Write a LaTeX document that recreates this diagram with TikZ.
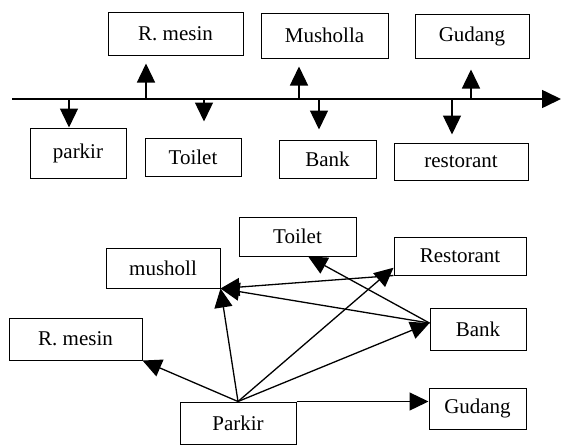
\documentclass[tikz,border=0pt]{standalone}
\usepackage{fontspec}
\setmainfont{Liberation Serif}
\usetikzlibrary{positioning, arrows.meta}
\tikzset{
room/.style={draw, rectangle, line width=1pt, inner sep=0pt, font=\fontsize{21}{24}\selectfont},
arr/.style={line width=1.4pt, -{Triangle[length=19pt, width=18pt]}},
}

\begin{document}
\begin{tikzpicture}[x=1pt, y=-1pt]
    \useasboundingbox (0,0) rectangle (562,445);

    %rooms above the line
    \node[room, minimum width=135, minimum height=43] (rmesinA) at (175.5,33.5) {R. mesin};
    \node[room, minimum width=127, minimum height=45] (mushollaA) at (324.5,35.5) {Musholla};
    \node[room, minimum width=114, minimum height=44] (gudangA) at (472,36) {Gudang};

    %rooms below the line
    \node[room, minimum width=96, minimum height=50] (parkirA) at (78,153) {parkir};
    \node[room, minimum width=96, minimum height=38] (toiletA) at (193,157) {Toilet};
    \node[room, minimum width=97, minimum height=38] (bankA) at (327.5,159) {Bank};
    \node[room, minimum width=134, minimum height=37] (restA) at (461,161.5) {restorant};

    %main line
    \coordinate (lstart) at (12,99);
    \coordinate (lend) at (561,99);
    \draw[arr, line width=1.6pt] (lstart)--(lend);

    %points on the line
    \coordinate (u1) at (146,99);
    \coordinate (u2) at (299,99);
    \coordinate (u3) at (471,99);
    \coordinate (d1) at (69,99);
    \coordinate (d2) at (204,99);
    \coordinate (d3) at (319,99);
    \coordinate (d4) at (452,99);

    %arrows up
    \draw[arr, shorten >=8pt]  (u1)--(u1 |- rmesinA.south);
    \draw[arr, shorten >=8pt]  (u2)--(u2 |- mushollaA.south);
    \draw[arr, shorten >=11pt] (u3)--(u3 |- gudangA.south);

    %arrows down
    \draw[arr]                 (d1)--(d1 |- parkirA.north);
    \draw[arr, shorten >=16pt] (d2)--(d2 |- toiletA.north);
    \draw[arr, shorten >=10pt] (d3)--(d3 |- bankA.north);
    \draw[arr, shorten >=8pt]  (d4)--(d4 |- restA.north);

    %rooms of the second plan
    \node[room, minimum width=117, minimum height=39] (toiletB) at (297.5,236.5) {Toilet};
    \node[room, minimum width=132, minimum height=38] (restB) at (460,256) {Restorant};
    \node[room, minimum width=114, minimum height=40] (mushollB) at (163,268) {musholl};
    \node[room, minimum width=96, minimum height=42] (bankB) at (478,329) {Bank};
    \node[room, minimum width=133, minimum height=42] (rmesinB) at (75.5,339) {R. mesin};
    \node[room, minimum width=116, minimum height=42] (parkirB) at (238,423) {Parkir};
    \node[room, minimum width=97, minimum height=41] (gudangB) at (477.5,408.5) {Gudang};

    %arrows from parkir
    \draw[arr, line width=1.3pt] (parkirB.north)--(rmesinB.south east);
    \draw[arr, line width=1.3pt] (parkirB.north)--(mushollB.south east);
    \draw[arr, line width=1.3pt] (parkirB.north)--(restB.190);
    \draw[arr, line width=1.3pt] (parkirB.north)--(bankB.173);
    \draw[arr, line width=1.3pt] (parkirB.north east)--(gudangB.west |- parkirB.north east);

    %arrows from bank and restorant
    \draw[arr, line width=1.3pt] (bankB.173)--(toiletB.-62);
    \draw[arr, line width=1.3pt] (bankB.173)--(mushollB.south east);
    \draw[arr, line width=1.3pt] (restB.south west)--(mushollB.south east);

\end{tikzpicture}
\end{document}
